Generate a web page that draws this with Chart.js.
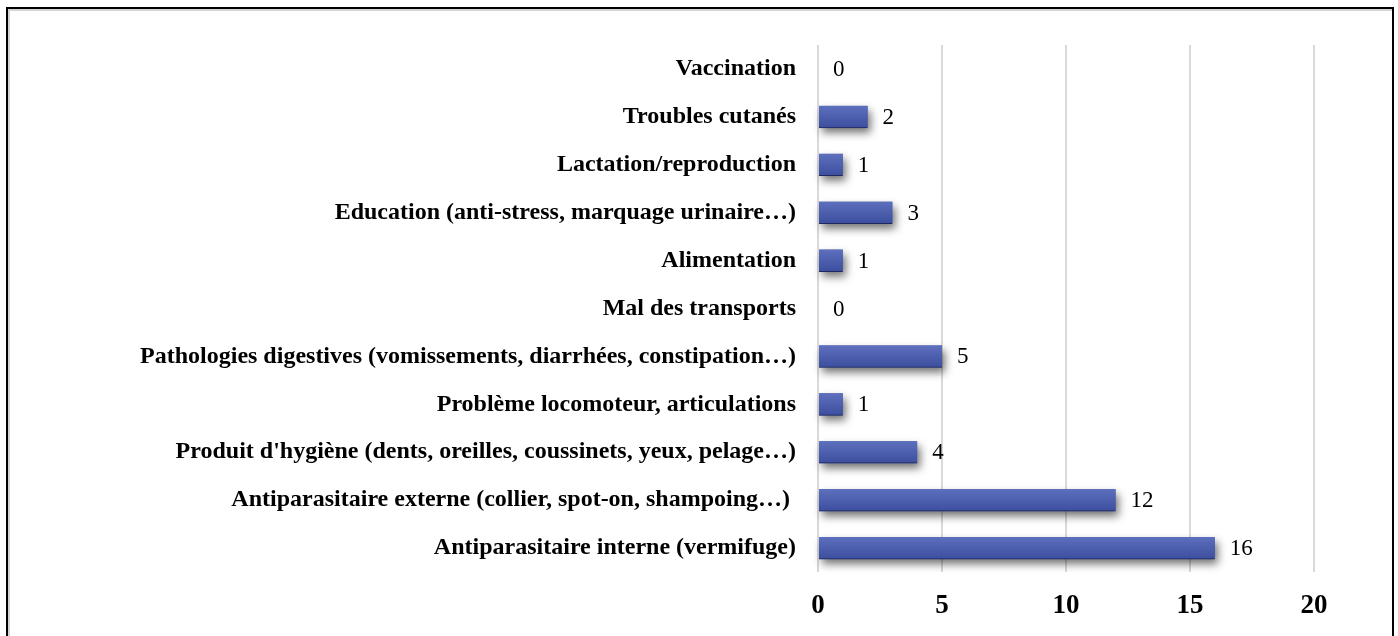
<!DOCTYPE html>
<html>
<head>
<meta charset="utf-8">
<script src="https://cdn.jsdelivr.net/npm/chart.js@4"></script>
<style>
html,body{margin:0;padding:0;background:#fff;}
#wrap{position:relative;width:1398px;height:636px;overflow:hidden;}
#frame{position:absolute;left:6px;top:7px;width:1384px;height:700px;border:2px solid #000;box-shadow:inset 2px 2px 0 #d4d4d4;pointer-events:none;}
canvas{display:block;}
</style>
</head>
<body>
<div id="wrap">
<canvas id="c" width="1398" height="636"></canvas>
<div id="frame"></div>
</div>
<script>
const categories = [
  "Vaccination",
  "Troubles cutanés",
  "Lactation/reproduction",
  "Education (anti-stress, marquage urinaire…)",
  "Alimentation",
  "Mal des transports",
  "Pathologies digestives (vomissements, diarrhées, constipation…)",
  "Problème locomoteur, articulations",
  "Produit d'hygiène (dents, oreilles, coussinets, yeux, pelage…)",
  "Antiparasitaire externe (collier, spot-on, shampoing…) ",
  "Antiparasitaire interne (vermifuge)"
];
const values = [0, 2, 1, 3, 1, 0, 5, 1, 4, 12, 16];
const xTicks = [0, 5, 10, 15, 20];

const SERIF = '"Liberation Serif", "Times New Roman", serif';

const shadowPlugin = {
  id: 'shadow',
  beforeDatasetsDraw(chart) {
    const ctx = chart.ctx;
    const meta = chart.getDatasetMeta(0);
    ctx.save();
    ctx.shadowColor = 'rgba(0,0,0,0.55)';
    ctx.shadowBlur = 9;
    ctx.shadowOffsetX = 3;
    ctx.shadowOffsetY = 5;
    ctx.fillStyle = '#4a5dae';
    meta.data.forEach(bar => {
      const left = Math.min(bar.base, bar.x);
      const w = Math.abs(bar.x - bar.base);
      if (w > 0) ctx.fillRect(left, bar.y - bar.height / 2, w, bar.height);
    });
    ctx.restore();
  },
  afterDatasetsDraw(chart) {
    const ctx = chart.ctx;
    const meta = chart.getDatasetMeta(0);
    ctx.save();
    ctx.font = '23px ' + SERIF;
    ctx.fillStyle = '#000';
    ctx.textAlign = 'left';
    ctx.textBaseline = 'middle';
    meta.data.forEach((bar, i) => {
      ctx.fillText(String(values[i]), bar.x + 15, bar.y + 1);
    });
    ctx.restore();
  }
};

function barFill(c) {
  const el = c.element;
  const chart = c.chart;
  if (!el || el.y === undefined || isNaN(el.y)) return '#4a5dae';
  const g = chart.ctx.createLinearGradient(0, el.y - 11, 0, el.y + 11);
  g.addColorStop(0, '#5d6fbd');
  g.addColorStop(1, '#3c4f9e');
  return g;
}

const chart = new Chart(document.getElementById('c'), {
  type: 'bar',
  data: {
    labels: categories,
    datasets: [{
      data: values,
      backgroundColor: barFill,
      borderColor: '#1e275e',
      borderWidth: {top: 0, left: 0, right: 0, bottom: 1},
      borderSkipped: false,
      barThickness: 22
    }]
  },
  options: {
    indexAxis: 'y',
    responsive: false,
    animation: false,
    layout: {padding: {top: 45, right: 84, left: 0, bottom: 0}},
    plugins: {legend: {display: false}, tooltip: {enabled: false}},
    scales: {
      x: {
        min: 0, max: 20,
        afterBuildTicks(scale) { scale.ticks = xTicks.map(v => ({value: v})); },
        afterFit(scale) { scale.height = 64; },
        grid: {color: '#d9d9d9', lineWidth: 2, drawTicks: false},
        border: {display: false},
        ticks: {
          padding: 18,
          color: '#000',
          font: {family: SERIF, size: 27, weight: 'bold'}
        }
      },
      y: {
        afterFit(scale) { scale.width = 818; },
        grid: {display: false, drawTicks: false},
        border: {display: false},
        ticks: {
          padding: 22,
          color: '#000',
          autoSkip: false,
          font: {family: SERIF, size: 24, weight: 'bold'}
        }
      }
    }
  },
  plugins: [shadowPlugin]
});
chart.update();
</script>
</body>
</html>
